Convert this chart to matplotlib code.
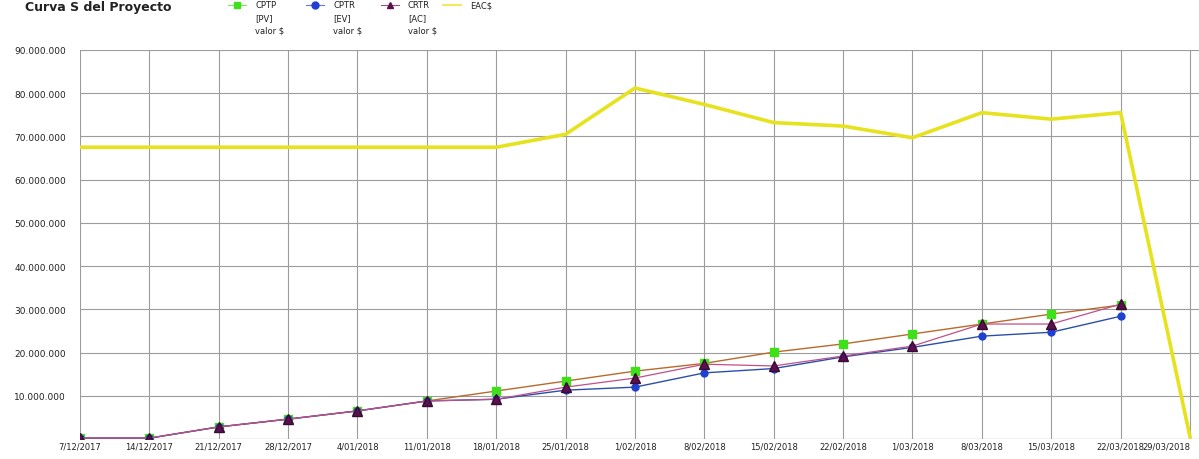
import numpy as np
import matplotlib
matplotlib.use('Agg')
import matplotlib.pyplot as plt
from matplotlib.lines import Line2D
from matplotlib.ticker import FuncFormatter
from matplotlib.transforms import ScaledTranslation

# Weekly reporting dates
dates = ['7/12/2017', '14/12/2017', '21/12/2017', '28/12/2017', '4/01/2018',
         '11/01/2018', '18/01/2018', '25/01/2018', '1/02/2018', '8/02/2018',
         '15/02/2018', '22/02/2018', '1/03/2018', '8/03/2018', '15/03/2018',
         '22/03/2018', '29/03/2018']

# Values in millions
pv = [0.2, 0.2, 2.8, 4.6, 6.5, 8.8, 11.1, 13.4, 15.7, 17.5, 20.1, 22.0,
      24.3, 26.6, 28.9, 31.0, np.nan]
ev = [0.2, 0.2, 2.8, 4.6, 6.5, 8.8, 9.2, 11.3, 12.0, 15.3, 16.3, 19.0,
      21.2, 23.8, 24.7, 28.4, np.nan]
ac = [0.2, 0.2, 2.8, 4.6, 6.5, 8.8, 9.2, 12.0, 14.1, 17.3, 16.9, 19.2,
      21.5, 26.6, 26.6, 31.2, np.nan]
eac = [67.5, 67.5, 67.5, 67.5, 67.5, 67.5, 67.5, 70.5, 81.2, 77.4, 73.2,
       72.4, 69.7, 75.5, 74.0, 75.5, 0.5]

labels = ['CPTP\n[PV]\nvalor $', 'CPTR\n[EV]\nvalor $',
          'CRTR\n[AC]\nvalor $', 'EAC$']

x = np.arange(len(dates))
scale = 1e6

fig = plt.figure(figsize=(11.99, 4.6), dpi=100)
ax = fig.add_axes([80 / 1199, 20 / 460, 1119 / 1199, 389 / 460])

ax.plot(x, np.array(eac) * scale, color='#e6e21e', lw=2.6, zorder=3)
ax.plot(x, np.array(pv) * scale, color='#b86a2c', lw=1.0, marker='s',
        ms=5.5, mfc='#3ee01a', mec='#3ee01a', zorder=4)
ax.plot(x, np.array(ev) * scale, color='#2b4fa8', lw=1.0, marker='o',
        ms=5, mfc='#2040d0', mec='#2040d0', zorder=5)
ax.plot(x, np.array(ac) * scale, color='#c0508a', lw=0.9, marker='^',
        ms=6.5, mfc='#5a1050', mec='#3a0a30', zorder=6)

ax.set_xlim(0, 16.13)
ax.set_ylim(0, 90e6)
ax.set_xticks(x)
ax.set_xticklabels(dates, fontsize=6.0, color='#222222')
# last date sits at the right edge, keep it inside the figure
last = ax.get_xticklabels()[-1]
last.set_horizontalalignment('right')
last.set_transform(last.get_transform() + ScaledTranslation(8 / 100, 0, fig.dpi_scale_trans))
ax.set_yticks(np.arange(0, 90e6 + 1, 10e6))
ax.yaxis.set_major_formatter(FuncFormatter(
    lambda v, p: '' if v == 0 else f'{int(v):,}'.replace(',', '.')))
ax.tick_params(axis='y', labelsize=6.5, labelcolor='#222222', length=0, pad=10)
ax.tick_params(axis='x', length=0, pad=2)
ax.grid(True, color='#9c9c9c', lw=0.8)
ax.set_axisbelow(True)
for s in ax.spines.values():
    s.set_visible(False)
ax.axhline(0, color='#9c9c9c', lw=0.8, zorder=1)

# Title
fig.text(25 / 1199, 1 - 1 / 460, 'Curva S del Proyecto', fontsize=9,
         fontweight='bold', color='#222222', va='top')

# Legend drawn by hand: marker beside the first line of each label
leg_markers = [('s', '#3ee01a'), ('o', '#2040d0'), ('^', '#5a1050'), (None, '#e6e21e')]
leg_x = [237, 315, 390, 452]
for (m, c), lx, lab in zip(leg_markers, leg_x, labels):
    yy = 1 - 6 / 460
    fig.add_artist(Line2D([(lx - 9) / 1199, (lx + 9) / 1199], [yy, yy],
                          color=c, lw=1.5 if m is None else 0.8, alpha=0.7))
    if m is not None:
        fig.add_artist(Line2D([lx / 1199], [yy], marker=m, ms=5,
                              color=c, mec=c))
    fig.text((lx + 18) / 1199, 1 - 1 / 460, lab, fontsize=6, va='top',
             ha='left', color='#222222', linespacing=1.55)

fig.savefig('out.png', dpi=100)
